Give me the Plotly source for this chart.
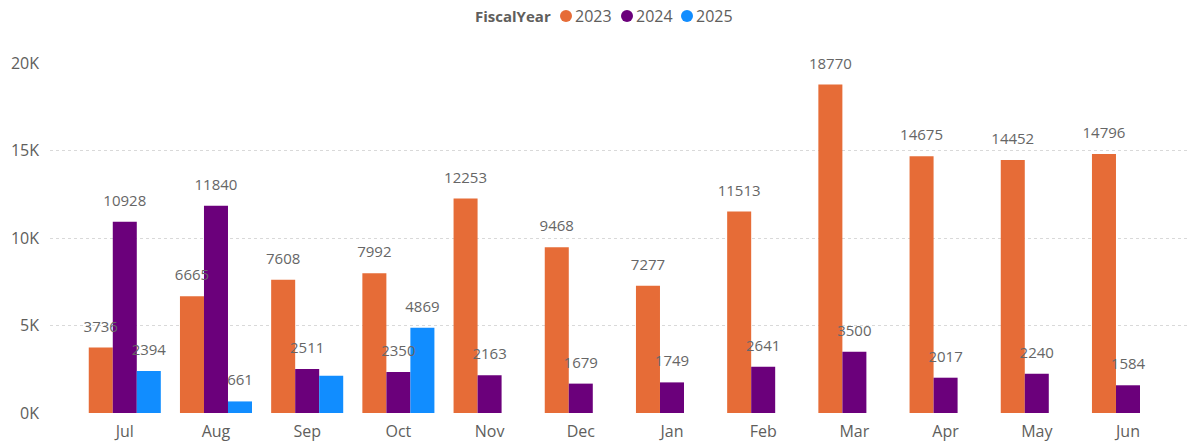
import plotly.graph_objects as go

months = ["Jul", "Aug", "Sep", "Oct", "Nov", "Dec", "Jan", "Feb", "Mar", "Apr", "May", "Jun"]
fy2023 = [3736, 6665, 7608, 7992, 12253, 9468, 7277, 11513, 18770, 14675, 14452, 14796]
fy2024 = [10928, 11840, 2511, 2350, 2163, 1679, 1749, 2641, 3500, 2017, 2240, 1584]
fy2025 = [2394, 661, 2130, 4869, None, None, None, None, None, None, None, None]
years = ["2023", "2024", "2025"]
legend_title = "FiscalYear"
# data labels that are hidden in the reference (overlap)
hidden_labels = {("2025", "Sep")}

series = {"2023": fy2023, "2024": fy2024, "2025": fy2025}
colors = {"2023": "#E66C37", "2024": "#6B007B", "2025": "#118DFF"}

FONT = "Segoe UI, Open Sans, sans-serif"
TXT = "#605E5C"

fig = go.Figure()
for yr in years:
    vals = series[yr]
    fig.add_trace(go.Bar(
        x=months, y=vals, name=yr, marker_color=colors[yr],
        marker_line_width=0, offsetgroup=yr, alignmentgroup="a",
        showlegend=False, hoverinfo="skip",
    ))
for yr in years:
    vals = series[yr]
    texts = []
    for m, v in zip(months, vals):
        if v is None or (yr, m) in hidden_labels:
            texts.append("")
        else:
            texts.append(str(v))
    fig.add_trace(go.Scatter(
        x=months, y=vals, mode="markers+text", text=texts,
        textposition="top center", offsetgroup=yr, alignmentgroup="a",
        marker=dict(size=18, color="rgba(0,0,0,0)"),
        textfont=dict(family=FONT, size=15, color="#666666"),
        cliponaxis=False, showlegend=False, hoverinfo="skip",
    ))

# legend drawn manually to mimic the Power BI layout
LEG_Y = 1 + (63 - 16) / 350
annotations = [dict(
    text="<b>" + legend_title + "</b>", xref="paper", yref="paper",
    x=(473 - 50) / 1140, y=LEG_Y, xanchor="left", yanchor="middle",
    showarrow=False, font=dict(family=FONT, size=15, color=TXT),
)]
shapes = []
dot_centers = [566, 627, 687]
for yr, cx in zip(years, dot_centers):
    shapes.append(dict(
        type="circle", xref="paper", yref="paper",
        xsizemode="pixel", ysizemode="pixel",
        xanchor=(cx - 50) / 1140, yanchor=LEG_Y,
        x0=-6, x1=6, y0=-6, y1=6,
        fillcolor=colors[yr], line_width=0,
    ))
    annotations.append(dict(
        text=yr, xref="paper", yref="paper",
        x=(cx + 7 - 50) / 1140, y=LEG_Y,
        xanchor="left", yanchor="middle", showarrow=False,
        font=dict(family=FONT, size=16, color=TXT),
    ))

fig.update_layout(
    width=1192, height=445,
    margin=dict(l=50, r=2, t=63, b=32, autoexpand=False),
    paper_bgcolor="white", plot_bgcolor="white",
    barmode="group", bargap=0.21, bargroupgap=0,
    scattermode="group", scattergap=0.21,
    font=dict(family=FONT, color=TXT),
    showlegend=False,
    annotations=annotations, shapes=shapes,
    xaxis=dict(
        categoryorder="array", categoryarray=months,
        range=[-0.82, 11.68], automargin=False,
        showgrid=False, zeroline=False, showline=False,
        tickfont=dict(size=16, color=TXT), ticks="",
        ticklabelstandoff=7,
    ),
    yaxis=dict(
        range=[0, 20000], tickvals=[0, 5000, 10000, 15000, 20000],
        ticktext=["0K", "5K", "10K", "15K", "20K"], automargin=False,
        showgrid=True, gridcolor="#D9D9D9", griddash="dot", gridwidth=1,
        zeroline=False, showline=False,
        tickfont=dict(size=16, color=TXT), ticks="",
        ticklabelstandoff=10,
    ),
)

# remove the default page margin so the figure fills the window exactly
fig.write_html(
    "out.html",
    config={"displayModeBar": False},
    post_script="document.body.style.margin='0px';",
)
